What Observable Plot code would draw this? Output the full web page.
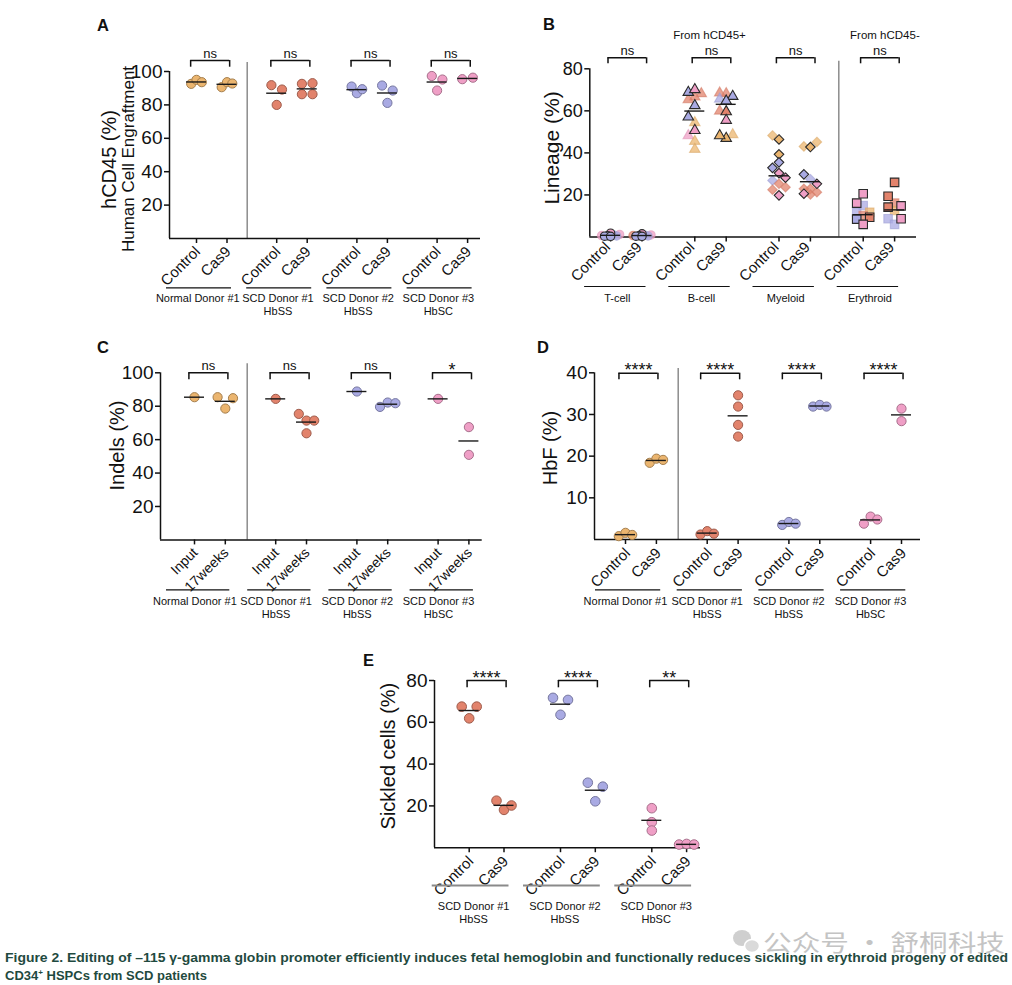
<!DOCTYPE html>
<html>
<head>
<meta charset="utf-8">
<script src="https://cdn.jsdelivr.net/npm/d3@7"></script>
<script src="https://cdn.jsdelivr.net/npm/@observablehq/plot@0.6"></script>
<style>
  html, body { margin: 0; padding: 0; background: #fff; }
  #fig { position: relative; width: 1012px; height: 985px; overflow: hidden; background: #fff;
         font-family: "Liberation Sans", Arial, Helvetica, sans-serif; }
  #fig svg { position: absolute; }
</style>
</head>
<body>
<div id="fig"></div>
<script>
// ======================= DATA =======================
const donorLabels = ["Normal Donor #1", "SCD Donor #1\nHbSS", "SCD Donor #2\nHbSS", "SCD Donor #3\nHbSC"];
const treatLabels = ["Control", "Cas9"];
const timeLabels = ["Input", "17weeks"];

// Panel A – hCD45 human cell engraftment (%)
const engraftControl = [[92.6, 95.0, 93.6], [91.8, 89.2, 80.0], [91.0, 87.0, 89.4], [97.3, 95.2, 88.6]];
const engraftCas9 = [[90.6, 93.6, 92.8], [92.6, 93.0, 86.4, 86.4], [91.6, 88.6, 81.2], [95.4, 96.3]];
const sigA = ["ns", "ns", "ns", "ns"];

// Panel B – lineage (%), entries are [value, donor index, cohort]
const lineages = ["T-cell", "B-cell", "Myeloid", "Erythroid"];
const lineageHeaders = ["From hCD45+", "From hCD45-"];
const tcellControl = [[1.8,3,0],[1.2,3,1],[0.9,2,1],[0.6,2,0],[0.5,2,1],[0.4,2,0],[0.7,3,1],[0.3,2,0]];
const tcellCas9 = [[1.5,3,0],[1.0,3,1],[0.8,2,1],[0.6,2,0],[0.5,2,1],[0.4,2,0],[0.7,1,1],[0.3,2,0]];
const bcellControl = [[68.8,2,0],[70.1,3,0],[68.2,1,1],[66.6,1,1],[65.3,1,1],[62.5,2,0],[57.1,2,0],[54.4,0,1],[50.7,3,0],[48.2,3,1],[45.5,0,1],[41.7,0,1]];
const bcellCas9 = [[66.9,2,0],[68.2,1,1],[68.5,1,1],[64.7,2,0],[65.6,2,1],[59.9,1,1],[59.6,1,0],[55.5,3,0],[46.9,0,0],[48.7,0,1],[48.2,0,0]];
const myeloidControl = [[46.4,0,0],[48.3,0,1],[39.3,0,0],[35.5,2,0],[32.9,2,0],[30.4,3,0],[28.2,3,0],[26.9,2,1],[25.3,1,1],[23.7,1,1],[22.5,1,1],[19.8,3,0]];
const myeloidCas9 = [[43.1,0,1],[45.2,0,1],[42.8,0,0],[29.8,2,0],[27.5,2,1],[25.3,3,0],[20.6,3,0],[22.9,1,1],[22.9,1,1],[20.2,1,1],[21.3,1,1]];
const erythroidControl = [[20.6,3,0],[16.1,3,0],[15.0,2,1],[11.8,2,1],[11.8,0,1],[8.5,2,0],[9.4,1,0],[10.2,1,1],[6.0,3,0]];
const erythroidCas9 = [[26.0,1,0],[19.4,1,0],[16.1,1,1],[14.8,3,0],[14.2,1,0],[12.6,0,1],[8.7,2,1],[8.7,3,0],[6.0,2,1]];
const lineageMeanControl = [0.8, 59.9, 29.1, 10.6];
const lineageMeanCas9 = [0.7, 63.1, 26.3, 12.9];
const sigB = ["ns", "ns", "ns", "ns"];

// Panel C – indels (%)
const indelsInput = [[85.4], [84.4], [88.8], [84.4]];
const indels17wk = [[85.4, 84.8, 78.6], [75.4, 71.4, 71.4, 63.8], [79.6, 82.2, 81.8], [67.5, 50.9]];
const sigC = ["ns", "ns", "ns", "*"];

// Panel D – HbF (%)
const hbfControl = [[0.8, 1.6, 1.1], [1.2, 2.0, 1.4], [3.5, 4.2, 3.8], [3.8, 5.5, 4.8]];
const hbfCas9 = [[18.4, 19.4, 19.1], [34.6, 31.9, 27.5, 24.7], [31.9, 32.3, 31.9], [31.4, 28.4]];
const sigD = ["****", "****", "****", "****"];

// Panel E – sickled cells (%)
const sickleDonors = ["SCD Donor #1\nHbSS", "SCD Donor #2\nHbSS", "SCD Donor #3\nHbSC"];
const sickleControl = [[67.5, 67.5, 61.9], [71.7, 70.7, 63.6], [18.9, 12.2, 8.2]];
const sickleCas9 = [[22.5, 18.1, 20.2], [31.1, 29.2, 22.2], [1.5, 1.8, 1.5]];
const sigE = ["****", "****", "**"];

const captionLine1 = "Figure 2. Editing of \u2013115 \u03b3-gamma globin promoter efficiently induces fetal hemoglobin and functionally reduces sickling in erythroid progeny of edited";
const captionLine2a = "CD34";
const captionLine2b = " HSPCs from SCD patients";
const watermark = "公众号 · 舒桐科技";

// ======================= STYLE / LAYOUT =======================
const FONT = "'Liberation Sans', Arial, Helvetica, sans-serif";
const donorColors = ["#ebb56f", "#e2836c", "#a9aae3", "#ef9fc6"];
const lineageSymbols = ["circle", "triangle", "diamond2", "square"];
const lineageR = [4.2, 3.9, 4.3, 4.8];
const fig = document.getElementById("fig");

const LA = {left:0, top:0, w:506, h:330, fl:169, fr:480, ft:71, fb:238, y:[0,100], yTicks:[20,40,60,80,100], yFont:19,
  tick0:196, stride:80.2, within:30.5, sep:246.7, sepTop:62, bTop:60, bLeg:6.7, bHalf:19.5, bShift:-1.6,
  ulL:30, ulR:4.5, ulY:287.3, ulStroke:"#111", ulW:1.2, lblY:292.8, lblDx:-14, s:5.3, r:4.6,
  tlDx:-3, tlDy:6.5, tlFont:15};
const LB = {left:506, top:0, w:506, h:330, fl:589.3, fr:916, ft:68.3, fb:236.5, y:[0,80], yTicks:[20,40,60,80], yFont:18,
  tick0:610.1, stride:84.2, within:31.4, sep:838.3, sepTop:60.7, bTop:57.3, bLeg:6, bHalf:19.3, bShift:1,
  ulL:26, ulR:4, ulY:286, ulStroke:"#111", ulW:1.2, lblY:292.1, lblDx:-9,
  tlDx:-7, tlDy:3.5, tlFont:15};
const LC = {left:0, top:320, w:506, h:320, fl:160, fr:481.7, ft:372.3, fb:539.4, y:[0,100], yTicks:[20,40,60,80,100], yFont:19,
  tick0:194, stride:81.2, within:30.8, sep:246.7, sepTop:363.3, bTop:372.3, bLeg:7, bHalf:19.5, bShift:-1.5,
  ulL:28, ulR:4.5, ulY:589.3, ulStroke:"#111", ulW:1.2, lblY:595.4, lblDx:-15, s:7.7, r:4.6,
  tlDx:-3, tlDy:6.5, tlFont:14};
const LD = {left:506, top:320, w:506, h:320, fl:594, fr:920, ft:372.3, fb:539, y:[0,40], yTicks:[10,20,30,40], yFont:19,
  tick0:625, stride:81.7, within:30.9, sep:677.7, sepTop:368, bTop:372.7, bLeg:6.6, bHalf:19.5, bShift:-2.5,
  ulL:30, ulR:4.3, ulY:589.3, ulStroke:"#111", ulW:1.2, lblY:595.4, lblDx:-15.5, s:6.7, r:4.6,
  tlDx:-2, tlDy:7, tlFont:15};
const LE = {left:300, top:630, w:420, h:300, fl:434, fr:700, ft:680, fb:847.2, y:[0,80], yTicks:[20,40,60,80], yFont:19,
  tick0:468.7, stride:91.3, within:34.8, sep:null, bTop:680, bLeg:7.3, bHalf:19.5, bShift:0,
  ulL:37, ulR:5, ulY:885, ulStroke:"#8a8a8a", ulW:2, lblY:900.4, lblDx:-13, s:7.5, r:4.8,
  tlDx:-2.5, tlDy:7, tlFont:15};

function helpers(L) {
  const k = (L.fb - L.ft) / (L.y[1] - L.y[0]);
  return {
    k,
    u: a => a - L.tick0,
    pos: (g, c) => g * L.stride + c * L.within,
    val: px => L.y[0] + (L.fb - px) / k
  };
}

// symmetric row layout of overlapping points (GraphPad-like scatter)
function rowOffsets(values, k, s, thr) {
  const idx = values.map((v, i) => i).sort((a, b) => values[b] - values[a]);
  const rows = [];
  for (const i of idx) {
    const last = rows[rows.length - 1];
    if (last && (values[last[0]] - values[i]) * k < thr) last.push(i); else rows.push([i]);
  }
  const off = values.map(() => 0);
  for (const row of rows) {
    row.sort((a, b) => a - b);
    const n = row.length, h = n / 2;
    row.forEach((i, j) => {
      off[i] = n % 2 === 1 ? (j - (n - 1) / 2) * s : (j < h ? j - h : j - h + 1) * s;
    });
  }
  return off;
}

// greedy beeswarm for dense groups
function greedyOffsets(values, k, s, dmin, maxK) {
  const order = values.map((v, i) => i).sort((a, b) => values[a] - values[b]);
  const placed = [], off = values.map(() => 0);
  for (const i of order) {
    const y = values[i] * k;
    const cands = [0];
    for (let m = 1; m <= maxK; m++) cands.push(-m * s, m * s);
    let best = 0, bestD = -1;
    for (const c of cands) {
      let md = Infinity;
      for (const p of placed) md = Math.min(md, Math.hypot(c - p.x, y - p.y));
      if (md >= dmin) { best = c; break; }
      if (md > bestD) { bestD = md; best = c; }
    }
    off[i] = best; placed.push({x: best, y});
  }
  return off;
}

function commonMarks(L, H, nGroups, condLabels, groupLabels, sig, titles) {
  const {u, pos, val} = H;
  const ticks = [], tickLab = [];
  for (let g = 0; g < nGroups; g++) for (let c = 0; c < 2; c++) {
    const p = pos(g, c); ticks.push(p); tickLab.push({x: p, t: condLabels[c]});
  }
  const br = sig.map((s, g) => {
    const cx = pos(g, 0) + L.within / 2 + L.bShift;
    return {s, cx, x1: cx - L.bHalf, x2: cx + L.bHalf};
  });
  const legs = br.flatMap(b => [b.x1, b.x2]);
  const bTop = val(L.bTop), bLow = val(L.bTop + L.bLeg);
  const grp = groupLabels.map((label, g) => ({
    label, x1: pos(g, 0) - L.ulL, x2: pos(g, 1) + L.ulR, cx: pos(g, 0) + L.within / 2 + L.lblDx
  }));
  const marks = [];
  if (L.sep != null) marks.push(Plot.ruleX([u(L.sep)], {y1: L.y[0], y2: val(L.sepTop), stroke: "#8c8c8c", strokeWidth: 1.5}));
  marks.push(
    Plot.ruleY([L.y[0]], {stroke: "#111", strokeWidth: 1.5}),
    Plot.ruleX([u(L.fl)], {stroke: "#111", strokeWidth: 1.5}),
    Plot.axisY({ticks: L.yTicks, tickSize: 5, tickPadding: 2, fontSize: L.yFont, label: null, strokeWidth: 1.5, stroke: "#111", fill: "#111"}),
    Plot.axisX({ticks, tickFormat: () => "", tickSize: 5, label: null, strokeWidth: 1.5, stroke: "#111"}),
    Plot.text(tickLab, {x: "x", y: L.y[0], text: "t", rotate: -45, textAnchor: "end", lineAnchor: "top",
      dx: L.tlDx, dy: L.tlDy, fontSize: L.tlFont, fill: "#111"}),
    Plot.ruleY(br, {y: bTop, x1: "x1", x2: "x2", stroke: "#111", strokeWidth: 1.5}),
    Plot.ruleX(legs, {x: d => d, y1: bLow, y2: bTop, stroke: "#111", strokeWidth: 1.5}),
    Plot.text(br.filter(b => b.s.includes("*")), {x: "cx", y: bTop, text: "s", lineAnchor: "bottom", fontSize: 18, dy: 3, fill: "#111"}),
    Plot.text(br.filter(b => !b.s.includes("*")), {x: "cx", y: bTop, text: "s", lineAnchor: "bottom", fontSize: 13, dy: -3, fill: "#111"}),
    Plot.ruleY(grp, {y: L.y[0], x1: "x1", x2: "x2", dy: L.ulY - L.fb, stroke: L.ulStroke, strokeWidth: L.ulW}),
    Plot.text(grp, {x: "cx", y: L.y[0], text: "label", lineAnchor: "top", dy: L.lblY - L.fb, fontSize: 11, lineHeight: 1.15, fill: "#111"}),
    ...titles.map(t => Plot.text([t.text], {frameAnchor: "left", text: d => d, rotate: -90, fontSize: t.size,
      textAnchor: "middle", lineAnchor: "middle", dx: t.x - L.fl, dy: t.y - (L.ft + L.fb) / 2, fill: "#111"}))
  );
  return marks;
}

function render(L, marks) {
  const svg = Plot.plot({
    width: L.w, height: L.h,
    marginLeft: L.fl - L.left, marginRight: L.left + L.w - L.fr,
    marginTop: L.ft - L.top, marginBottom: L.top + L.h - L.fb,
    x: {type: "linear", domain: [L.fl - L.tick0, L.fr - L.tick0]},
    y: {type: "linear", domain: L.y},
    color: {type: "identity"},
    style: {fontFamily: FONT, background: "transparent", color: "#111", overflow: "visible"},
    marks
  });
  svg.style.left = L.left + "px";
  svg.style.top = L.top + "px";
  fig.appendChild(svg);
}

function circlePanel(L, groups, conds, series, colorIdx, sig, titles) {
  const H = helpers(L);
  const pts = [], means = [];
  series.forEach((ser, c) => ser.forEach((vals, g) => {
    const off = rowOffsets(vals, H.k, L.s, 7.5);
    const col = donorColors[colorIdx[g]];
    vals.forEach((v, i) => pts.push({x: H.pos(g, c) + off[i], y: v, fill: col, stroke: d3.color(col).darker(1).formatHex()}));
    means.push({x1: H.pos(g, c) - 10, x2: H.pos(g, c) + 10, y: d3.mean(vals)});
  }));
  const marks = commonMarks(L, H, groups.length, conds, groups, sig, titles);
  marks.push(
    Plot.dot(pts, {x: "x", y: "y", r: L.r, fill: "fill", stroke: "stroke", strokeWidth: 1}),
    Plot.ruleY(means, {x1: "x1", x2: "x2", y: "y", stroke: "#1a1a1a", strokeWidth: 1.4})
  );
  render(L, marks);
}

// ---- Panel A
circlePanel(LA, donorLabels, treatLabels, [engraftControl, engraftCas9], [0, 1, 2, 3], sigA,
  [{text: "hCD45 (%)", size: 20, x: 109.3, y: 159}, {text: "Human Cell Engraftment", size: 17, x: 128.3, y: 158.5}]);

// ---- Panel C
circlePanel(LC, donorLabels, timeLabels, [indelsInput, indels17wk], [0, 1, 2, 3], sigC,
  [{text: "Indels (%)", size: 20, x: 116.7, y: 445}]);

// ---- Panel D
circlePanel(LD, donorLabels, treatLabels, [hbfControl, hbfCas9], [0, 1, 2, 3], sigD,
  [{text: "HbF (%)", size: 20, x: 550, y: 447.5}]);

// ---- Panel E
circlePanel(LE, sickleDonors, treatLabels, [sickleControl, sickleCas9], [1, 2, 3], sigE,
  [{text: "Sickled cells (%)", size: 20, x: 388.3, y: 755.6}]);

// ---- Panel B
(function () {
  const L = LB, H = helpers(L);
  const series = [[tcellControl, tcellCas9], [bcellControl, bcellCas9], [myeloidControl, myeloidCas9], [erythroidControl, erythroidCas9]];
  const means = [lineageMeanControl, lineageMeanCas9];
  const marks = commonMarks(L, H, lineages.length, treatLabels, lineages, sigB, [{text: "Lineage (%)", size: 21, x: 551.7, y: 147.5}]);
  series.forEach((pair, g) => {
    const pts = [];
    pair.forEach((arr, c) => {
      const vals = arr.map(d => d[0]);
      const off = g === 0 ? greedyOffsets(vals, H.k, 3, 4, 3) : greedyOffsets(vals, H.k, 6.5, 7, 1);
      arr.forEach((d, i) => {
        const base = d3.color(donorColors[d[1]]);
        let fill, stroke;
        if (d[2] === 0) { fill = base.formatHex(); stroke = "#2a2a2a"; }
        else { const f = d3.color(base); f.opacity = 0.75; fill = f.formatRgb(); const s = base.darker(0.2); s.opacity = 0.6; stroke = s.formatRgb(); }
        pts.push({x: H.pos(g, c) + off[i], y: d[0], fill, stroke, z: d[2]});
      });
    });
    pts.sort((a, b) => b.z - a.z);
    marks.push(Plot.dot(pts, {x: "x", y: "y", r: lineageR[g], symbol: lineageSymbols[g], fill: "fill", stroke: "stroke", strokeWidth: 1.1}));
  });
  const lines = [];
  lineages.forEach((l, g) => [0, 1].forEach(c => lines.push({x1: H.pos(g, c) - 10, x2: H.pos(g, c) + 10, y: means[c][g]})));
  marks.push(Plot.ruleY(lines, {x1: "x1", x2: "x2", y: "y", stroke: "#1a1a1a", strokeWidth: 1.4}));
  const heads = lineageHeaders.map((t, i) => ({t, x: H.pos(i === 0 ? 1 : 3, 0) + L.within / 2 + (i === 0 ? -1 : 6)}));
  marks.push(Plot.text(heads, {x: "x", text: "t", frameAnchor: "top", textAnchor: "middle", lineAnchor: "bottom", dy: 38.3 - L.ft, fontSize: 11.5, fill: "#111"}));
  render(L, marks);
})();

// ---- panel letters, caption, watermark
const ns = "http://www.w3.org/2000/svg";
const over = d3.select(fig).append("svg").attr("xmlns", ns).attr("width", 1012).attr("height", 985)
  .style("left", "0px").style("top", "0px").style("pointer-events", "none");
[["A", 97, 31], ["B", 543, 30], ["C", 97, 353], ["D", 537, 353], ["E", 363, 666]].forEach(([t, x, y]) =>
  over.append("text").attr("x", x).attr("y", y).attr("font-family", FONT).attr("font-weight", "bold")
    .attr("font-size", 16.5).attr("fill", "#111").text(t));
// watermark
over.append("ellipse").attr("cx", 742).attr("cy", 938).attr("rx", 9).attr("ry", 8).attr("fill", "#cfcfcf");
over.append("ellipse").attr("cx", 752).attr("cy", 946).attr("rx", 7.5).attr("ry", 6.5).attr("fill", "#dadada").attr("stroke", "#fff").attr("stroke-width", 1.5);
over.append("text").attr("x", 763).attr("y", 951).attr("font-family", "'Noto Sans CJK SC', sans-serif")
  .attr("font-size", 23).attr("fill", "#c4c4c4").attr("textLength", 242).attr("lengthAdjust", "spacingAndGlyphs").text(watermark);
// caption
const capFont = "'Liberation Sans Narrow', 'Liberation Sans', Arial, sans-serif";
over.append("text").attr("x", 5).attr("y", 962).attr("font-family", capFont).attr("font-weight", "bold")
  .attr("font-size", 13).attr("fill", "#1f4a40").attr("textLength", 1003).attr("lengthAdjust", "spacingAndGlyphs").text(captionLine1);
const l2 = over.append("text").attr("x", 5).attr("y", 980).attr("font-family", capFont).attr("font-weight", "bold")
  .attr("font-size", 13).attr("fill", "#1f4a40");
l2.append("tspan").text(captionLine2a);
l2.append("tspan").attr("dy", -5).attr("font-size", 8).text("+");
l2.append("tspan").attr("dy", 5).text(captionLine2b);
</script>
</body>
</html>
